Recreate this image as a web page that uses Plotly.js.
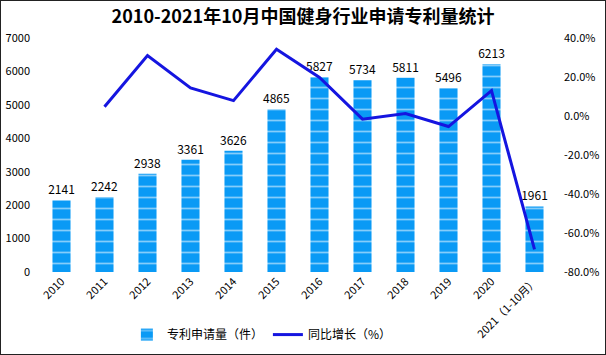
<!DOCTYPE html>
<html><head><meta charset="utf-8">
<script src="https://cdn.plot.ly/plotly-3.0.1.min.js"></script>
<style>html,body{margin:0;padding:0;background:#fff}#c{width:606px;height:355px;box-sizing:border-box;border:1px solid #222}</style>
</head><body><div id="c"></div>
<script>
const categories = ["2010","2011","2012","2013","2014","2015","2016","2017","2018","2019","2020","2021（1-10月）"];
const patents = [2141,2242,2938,3361,3626,4865,5827,5734,5811,5496,6213,1961];
const growth = [null,4.7,31.0,14.4,7.9,34.2,19.8,-1.6,1.3,-5.4,13.0,-68.4];
const leftTicks = [0,1000,2000,3000,4000,5000,6000,7000];
const rightTicks = [-80,-60,-40,-20,0,20,40];

const font = "'Noto Sans CJK SC', 'Liberation Sans', sans-serif";
const traces = [
  {type:'bar', x:categories, y:patents, name:'专利申请量（件）',
   text:patents.map(String), textposition:'outside', cliponaxis:false, constraintext:'none',
   textfont:{size:12,color:'#000',family:font},
   marker:{color:'#0a9af5', line:{width:0},
     pattern:{shape:'-', fgcolor:'#ffffff', bgcolor:'#0a9af5', size:11, solidity:0.16, fillmode:'overlay'}},
   hoverinfo:'none'},
  {type:'scatter', mode:'lines', x:categories, y:growth, yaxis:'y2', name:'同比增长（%）',
   line:{color:'#1515e0', width:3}, connectgaps:false, hoverinfo:'none'}
];
const layout = {
  width:604, height:353,
  margin:{l:39,r:49,t:37,b:82, autoexpand:false},
  paper_bgcolor:'#fff', plot_bgcolor:'#fff',
  font:{family:font, size:11, color:'#000'},
  title:{text:'<b>2010-2021年10月中国健身行业申请专利量统计</b>', font:{size:18,color:'#000',family:font},
         x:0.5, xanchor:'center', y:0.955, yanchor:'middle', yref:'container'},
  bargap:0.58,
  showlegend:true,
  legend:{orientation:'h', x:0.43, xanchor:'center', y:0.055, yanchor:'middle', yref:'container', font:{size:12,color:'#000'}},
  xaxis:{type:'category', tickangle:-45, showgrid:false, showline:false, ticks:'', tickfont:{size:11}, automargin:false},
  yaxis:{range:[0,7000], tickvals:leftTicks, showgrid:false, zeroline:false, showline:false, ticks:'', tickfont:{size:11}, automargin:false, ticklabelstandoff:9},
  yaxis2:{overlaying:'y', side:'right', range:[-80,40], tickvals:rightTicks, ticktext:rightTicks.map(v=>v.toFixed(1)+'%'),
          showgrid:false, zeroline:false, showline:false, ticks:'', tickfont:{size:11}, automargin:false, ticklabelstandoff:7}
};
Plotly.newPlot('c', traces, layout, {displayModeBar:false, staticPlot:true});
</script></body></html>
